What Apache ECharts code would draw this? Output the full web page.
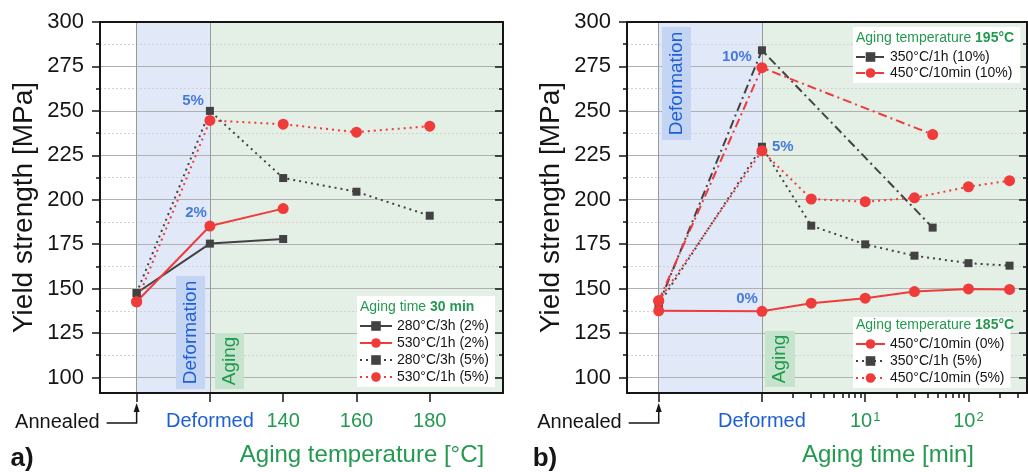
<!DOCTYPE html>
<html>
<head>
<meta charset="utf-8">
<script src="https://cdn.jsdelivr.net/npm/echarts@6/dist/echarts.min.js"></script>
<style>
html, body { margin: 0; padding: 0; background: #fff; }
#container { width: 1028px; height: 472px; }
</style>
</head>
<body>
<div id="container"></div>
<script>
// ---- data ----
// panel a) x: Annealed = 100, Deformed = 120, then aging temperature in °C
var tempTicks = [100, 120, 140, 160, 180];
var tempTickNames = ['Annealed', 'Deformed', '140', '160', '180'];
var tempX2 = [100, 120, 140];
var tempX5 = [100, 120, 140, 160, 180];
var a280_2 = [147.5, 175.3, 177.9];
var a530_2 = [142.6, 185.2, 195.0];
var a280_5 = [147.5, 250.0, 212.2, 204.5, 191.0];
var a530_5 = [142.6, 244.6, 242.5, 238.0, 241.4];

// panel b) x: Annealed = 0.1, Deformed = 1, then aging time in min (log)
var timeTicks = [0.1, 1, 10, 100];
var timeTickNames = ['Annealed', 'Deformed', '1', '2'];
var timeMinor = [2, 3, 4, 5, 6, 7, 8, 9, 20, 30, 40, 50, 60, 70, 80, 90, 200, 300];
var timeX10 = [0.1, 1, 45];
var timeX = [0.1, 1, 3, 10, 30, 100, 250];
var b350_10 = [141.0, 284.1, 184.3];
var b450_10 = [143.1, 274.3, 236.7];
var b450_0 = [137.5, 137.2, 141.8, 144.6, 148.3, 149.8, 149.5];
var b350_5 = [141.0, 229.8, 185.4, 174.9, 168.5, 164.3, 162.9];
var b450_5 = [143.1, 227.5, 200.4, 198.9, 201.1, 207.3, 210.7];

var yMajor = [100, 125, 150, 175, 200, 225, 250, 275, 300];
var yMinor = [112.5, 137.5, 162.5, 187.5, 212.5, 237.5, 262.5, 287.5];

var Y_MIN = 91.25, Y_MAX = 300;
var TA_MIN = 90, TA_MAX = 200;
var TB_MIN = 0.0493, TB_MAX = 369;

var FONT = '"Liberation Sans", Arial, sans-serif';
var INK = '#151515';
var GRAY = '#424242', RED = '#f03b3b', BLUE = '#1f5fd6', GREEN = '#22994f';
var BLUE_BG = '#e1e8f8', GREEN_BG = '#e4efe6';
var DOT = [2, 4], DASHDOT = [9, 4, 2, 4];

function zip(xs, ys) {
    return xs.map(function (x, i) { return [x, ys[i]]; });
}

function line(name, xs, ys, xi, yi, color, sym, type) {
    return {
        name: name, type: 'line', xAxisIndex: xi, yAxisIndex: yi, z: 4,
        data: zip(xs, ys),
        symbol: sym === 'sq' ? 'rect' : 'circle',
        symbolSize: sym === 'sq' ? 8 : 11,
        itemStyle: { color: color, opacity: 1 },
        lineStyle: { color: color, width: 2, type: type },
        emphasis: { disabled: true },
        animation: false
    };
}

function pct(xi, yi, items) {
    return {
        type: 'scatter', xAxisIndex: xi, yAxisIndex: yi, z: 5, silent: true,
        symbolSize: 0, animation: false,
        data: items.map(function (it) {
            return {
                value: [it[0], it[1]],
                label: { show: true, formatter: it[2], position: it[3], distance: it[4], offset: it[5],
                         color: BLUE, fontSize: 15, fontWeight: 'bold', fontFamily: FONT }
            };
        })
    };
}

function background(xi, yi, a, b, max) {
    return {
        type: 'line', xAxisIndex: xi, yAxisIndex: yi, data: [], z: 0, silent: true,
        markArea: {
            silent: true,
            data: [
                [{ xAxis: a, itemStyle: { color: BLUE_BG } }, { xAxis: b }],
                [{ xAxis: b, itemStyle: { color: GREEN_BG } }, { xAxis: max }]
            ]
        }
    };
}

function yAxes(g) {
    var base = { gridIndex: g, type: 'value', min: Y_MIN, max: Y_MAX, z: 3 };
    return [
        Object.assign({}, base, {
            position: 'left',
            name: 'Yield strength [MPa]', nameLocation: 'middle', nameGap: 62, nameRotate: 90,
            nameTextStyle: { fontSize: 28, color: INK, fontFamily: FONT },
            axisLine: { show: true, onZero: false, lineStyle: { color: INK, width: 2 } },
            axisTick: { show: true, customValues: yMajor, length: 8, lineStyle: { color: INK, width: 1.5 } },
            axisLabel: { show: true, customValues: yMajor, fontSize: 22, color: INK, margin: 16, fontFamily: FONT },
            splitLine: { show: true, lineStyle: { color: '#b0b0b0', width: 1 } }
        }),
        Object.assign({}, base, {
            position: 'left',
            axisLine: { show: false },
            axisTick: { show: true, customValues: yMinor, length: 4, lineStyle: { color: INK, width: 1.5 } },
            axisLabel: { show: false },
            splitLine: { show: true, lineStyle: { color: '#d2d2d2', width: 1, type: [2, 2] } }
        }),
        Object.assign({}, base, {
            position: 'right',
            axisLine: { show: true, onZero: false, lineStyle: { color: INK, width: 2 } },
            axisTick: { show: true, inside: true, customValues: yMajor, length: 8, lineStyle: { color: INK, width: 1.5 } },
            axisLabel: { show: false }, splitLine: { show: false }
        }),
        Object.assign({}, base, {
            position: 'right',
            axisLine: { show: false },
            axisTick: { show: true, inside: true, customValues: yMinor, length: 4, lineStyle: { color: INK, width: 1.5 } },
            axisLabel: { show: false }, splitLine: { show: false }
        })
    ];
}

var xRich = {
    b: { color: BLUE, fontSize: 20, fontFamily: FONT },
    g: { color: GREEN, fontSize: 20, fontFamily: FONT },
    s: { color: GREEN, fontSize: 13, fontFamily: FONT, verticalAlign: 'top', padding: [0, 0, 0, 1] }
};

function near(v, arr) {
    for (var i = 0; i < arr.length; i++) {
        if (Math.abs(v - arr[i]) < 1e-6 * arr[i]) return i;
    }
    return -1;
}

function fmtTemp(v) {
    var i = near(v, tempTicks);
    if (i <= 0) return '';
    if (i === 1) return '{b|Deformed}';
    return '{g|' + tempTickNames[i] + '}';
}

function fmtTime(v) {
    var i = near(v, timeTicks);
    if (i <= 0) return '';
    if (i === 1) return '{b|Deformed}';
    return '{g|10}{s|' + timeTickNames[i] + '}';
}

var axisLineStyle = { show: true, onZero: false, lineStyle: { color: INK, width: 2 } };
var vLine = { show: true, lineStyle: { color: '#9a9a9a', width: 1 } };

var xAxes = [
    { gridIndex: 0, type: 'value', position: 'bottom', min: TA_MIN, max: TA_MAX, z: 3,
      axisLine: axisLineStyle,
      axisTick: { show: true, customValues: tempTicks, length: 9, lineStyle: { color: INK, width: 1.5 } },
      axisLabel: { show: true, customValues: tempTicks, margin: 18, formatter: fmtTemp, rich: xRich },
      splitLine: { show: false } },
    { gridIndex: 0, type: 'value', position: 'top', min: TA_MIN, max: TA_MAX, z: 3,
      axisLine: axisLineStyle,
      axisTick: { show: false, customValues: [tempTicks[0], tempTicks[1]] },
      axisLabel: { show: false }, splitLine: vLine },
    { gridIndex: 1, type: 'log', logBase: 10, position: 'bottom', min: TB_MIN, max: TB_MAX, z: 3,
      axisLine: axisLineStyle,
      axisTick: { show: true, customValues: timeTicks, length: 9, lineStyle: { color: INK, width: 1.5 } },
      axisLabel: { show: true, customValues: timeTicks, margin: 18, formatter: fmtTime, rich: xRich },
      splitLine: { show: false } },
    { gridIndex: 1, type: 'log', logBase: 10, position: 'bottom', min: TB_MIN, max: TB_MAX, z: 3,
      axisLine: { show: false },
      axisTick: { show: true, customValues: timeMinor, length: 5, lineStyle: { color: INK, width: 1.5 } },
      axisLabel: { show: false }, splitLine: { show: false } },
    { gridIndex: 1, type: 'log', logBase: 10, position: 'top', min: TB_MIN, max: TB_MAX, z: 3,
      axisLine: axisLineStyle,
      axisTick: { show: false, customValues: [timeTicks[0], timeTicks[1]] },
      axisLabel: { show: false }, splitLine: vLine }
];

var legendBase = {
    orient: 'vertical', backgroundColor: '#fff', selectedMode: false, z: 6,
    itemHeight: 12, itemGap: 3,
    textStyle: { fontSize: 14, color: INK, fontFamily: FONT }
};

function legendTitle(normal, bold, left, top) {
    return {
        text: '{n|' + normal + '}{b|' + bold + '}', left: left, top: top, padding: 0, z: 7,
        textStyle: { fontWeight: 'normal', rich: {
            n: { fontSize: 14, color: GREEN, fontFamily: FONT, fontWeight: 'normal' },
            b: { fontSize: 14, color: GREEN, fontFamily: FONT, fontWeight: 'bold' }
        } }
    };
}

var option = {
    animation: false,
    textStyle: { fontFamily: FONT },
    grid: [
        { left: 100, top: 22, width: 403, height: 371 },
        { left: 627, top: 22, width: 400, height: 371 }
    ],
    xAxis: xAxes,
    yAxis: yAxes(0).concat(yAxes(1)),
    title: [
        legendTitle('Aging time ', '30 min', 360, 300),
        legendTitle('Aging temperature ', '195°C', 856, 31),
        legendTitle('Aging temperature ', '185°C', 856, 318)
    ],
    legend: [
        Object.assign({}, legendBase, { left: 357, top: 296, padding: [23, 6, 3, 2], itemWidth: 32,
            data: ['280°C/3h (2%)', '530°C/1h (2%)', '280°C/3h (5%)', '530°C/1h (5%)'] }),
        Object.assign({}, legendBase, { left: 853, top: 27, padding: [23, 8, 3, 2], itemWidth: 29, itemGap: 2,
            data: ['350°C/1h (10%)', '450°C/10min (10%)'] }),
        Object.assign({}, legendBase, { left: 853, top: 317, padding: [20, 6, 3, 2], itemWidth: 29,
            data: ['450°C/10min (0%)', '350°C/1h (5%)', '450°C/10min (5%)'] })
    ],
    series: [
        background(0, 0, tempTicks[0], tempTicks[1], TA_MAX),
        background(2, 4, timeTicks[0], timeTicks[1], TB_MAX),
        line('280°C/3h (2%)', tempX2, a280_2, 0, 0, GRAY, 'sq', 'solid'),
        line('280°C/3h (5%)', tempX5, a280_5, 0, 0, GRAY, 'sq', DOT),
        line('530°C/1h (2%)', tempX2, a530_2, 0, 0, RED, 'ci', 'solid'),
        line('530°C/1h (5%)', tempX5, a530_5, 0, 0, RED, 'ci', DOT),
        line('350°C/1h (10%)', timeX10, b350_10, 2, 4, GRAY, 'sq', DASHDOT),
        line('350°C/1h (5%)', timeX, b350_5, 2, 4, GRAY, 'sq', DOT),
        line('450°C/10min (10%)', timeX10, b450_10, 2, 4, RED, 'ci', DASHDOT),
        line('450°C/10min (5%)', timeX, b450_5, 2, 4, RED, 'ci', DOT),
        line('450°C/10min (0%)', timeX, b450_0, 2, 4, RED, 'ci', 'solid'),
        pct(0, 0, [
            [tempX5[1], a280_5[1], '5%', 'left', 6, [0, -10]],
            [tempX2[1], a530_2[1], '2%', 'left', 3, [0, -13]]
        ]),
        pct(2, 4, [
            [timeX10[1], b350_10[1], '10%', 'left', 10, [0, 7]],
            [timeX[1], b350_5[1], '5%', 'right', 10, [0, 0]],
            [timeX[1], b450_0[1], '0%', 'left', 4, [0, -12]]
        ])
    ]
};

var chart = echarts.init(document.getElementById('container'));
chart.setOption(option);

// annotations: region boxes, axis titles, Annealed arrows
function box(x, y, w, h, text, fill, color) {
    return {
        type: 'group', children: [
            { type: 'rect', z: 5, shape: { x: x, y: y, width: w, height: h }, style: { fill: fill } },
            { type: 'text', z: 6, x: x + w / 2, y: y + h / 2, rotation: Math.PI / 2,
              style: { text: text, fill: color, fontSize: 19, fontFamily: FONT, align: 'center', verticalAlign: 'middle' } }
        ]
    };
}

function annealed(xPix, yAxisPix) {
    var yl = yAxisPix + 30;
    return {
        type: 'group', children: [
            { type: 'text', z: 5, x: xPix - 37, y: yl - 1,
              style: { text: 'Annealed', fill: INK, fontSize: 20, fontFamily: FONT, align: 'right', verticalAlign: 'middle' } },
            { type: 'polyline', z: 5, shape: { points: [[xPix - 30, yl], [xPix, yl], [xPix, yAxisPix + 17]] },
              style: { stroke: INK, lineWidth: 1.5, fill: null } },
            { type: 'polygon', z: 5, shape: { points: [[xPix - 3, yAxisPix + 19], [xPix + 3, yAxisPix + 19], [xPix, yAxisPix + 10]] },
              style: { fill: INK } }
        ]
    };
}

function textAt(x, y, text, size, color, weight) {
    return { type: 'text', x: x, y: y, z: 5,
             style: { text: text, fill: color, fontSize: size, fontWeight: weight || 'normal', fontFamily: FONT,
                      align: 'center', verticalAlign: 'middle' } };
}

var axA = chart.convertToPixel({ xAxisIndex: 0 }, tempTicks[0]);
var axB = chart.convertToPixel({ xAxisIndex: 2 }, timeTicks[0]);
var bottomY = chart.convertToPixel({ yAxisIndex: 0 }, Y_MIN);

chart.setOption({
    graphic: [
        box(176, 276, 29, 113, 'Deformation', '#c4d4f3', BLUE),
        box(215, 333, 29, 56, 'Aging', '#c6e4cd', GREEN),
        box(662, 27, 29, 113, 'Deformation', '#c4d4f3', BLUE),
        box(765, 331, 30, 56, 'Aging', '#c6e4cd', GREEN),
        annealed(axA, bottomY),
        annealed(axB, bottomY),
        textAt(362, 455, 'Aging temperature [°C]', 24, GREEN),
        textAt(888, 455, 'Aging time [min]', 24, GREEN),
        textAt(22, 459, 'a)', 26, INK, 'bold'),
        textAt(545, 459, 'b)', 26, INK, 'bold')
    ]
});
</script>
</body>
</html>
